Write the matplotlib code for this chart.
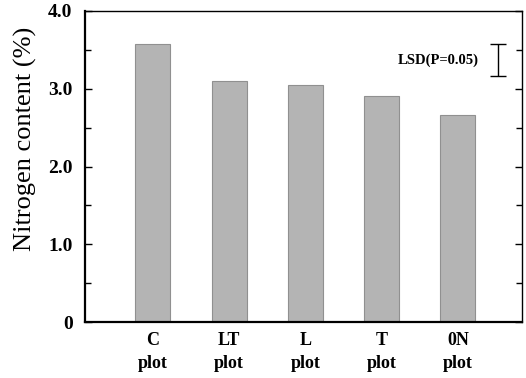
import numpy as np
import matplotlib
matplotlib.use('Agg')
import matplotlib.pyplot as plt
from matplotlib.ticker import MultipleLocator

### Data
plots = ['C', 'LT', 'L', 'T', '0N']
nitrogen = [3.58, 3.10, 3.05, 2.91, 2.66]
lsd = 0.42          # LSD(P=0.05) bar length
lsd_center = 3.37
yticks = [0, 1, 2, 3, 4]
yticklabels = ['0', '1.0', '2.0', '3.0', '4.0']

### plot settings
plt.rcParams['font.family'] = ['Liberation Serif', 'DejaVu Serif']

fig = plt.figure(figsize=(5.26, 3.78), dpi=100)
ax = fig.add_axes([0.1616, 0.148, 0.8308, 0.823])

x = np.arange(len(plots))
ax.bar(x, nitrogen, width=0.46, color='#b4b4b4', edgecolor='#909090', linewidth=0.8,
       zorder=2)

# LSD bar
ax.errorbar([4.52], [lsd_center], yerr=lsd / 2, color='black', capsize=6,
            elinewidth=1.0, capthick=1.0, fmt='none')
ax.text(4.27, lsd_center, 'LSD(P=0.05)', ha='right', va='center',
        fontsize=10.5, fontweight='bold')

ax.set_xlim(-0.89, 4.84)
ax.set_ylim(0, 4.0)
ax.set_yticks(yticks)
ax.set_yticklabels(yticklabels, fontsize=14, fontweight='bold')
ax.yaxis.set_minor_locator(MultipleLocator(0.5))
ax.tick_params(axis='y', which='major', direction='in', length=5, width=1, pad=9,
               right=True)
ax.tick_params(axis='y', which='minor', direction='in', length=4, width=1, right=True)

ax.set_xticks(x)
ax.set_xticklabels([f'{p}\nplot' for p in plots], fontsize=13, fontweight='bold',
                   linespacing=1.45)
ax.tick_params(axis='x', length=0, pad=7)

ax.set_ylabel('Nitrogen content (%)', fontsize=19)
ax.yaxis.set_label_coords(-0.11, 0.59)

for side in ['left', 'bottom']:
    ax.spines[side].set_linewidth(1.6)
for side in ['top', 'right']:
    ax.spines[side].set_linewidth(1.0)

fig.savefig('out.png', dpi=100)
